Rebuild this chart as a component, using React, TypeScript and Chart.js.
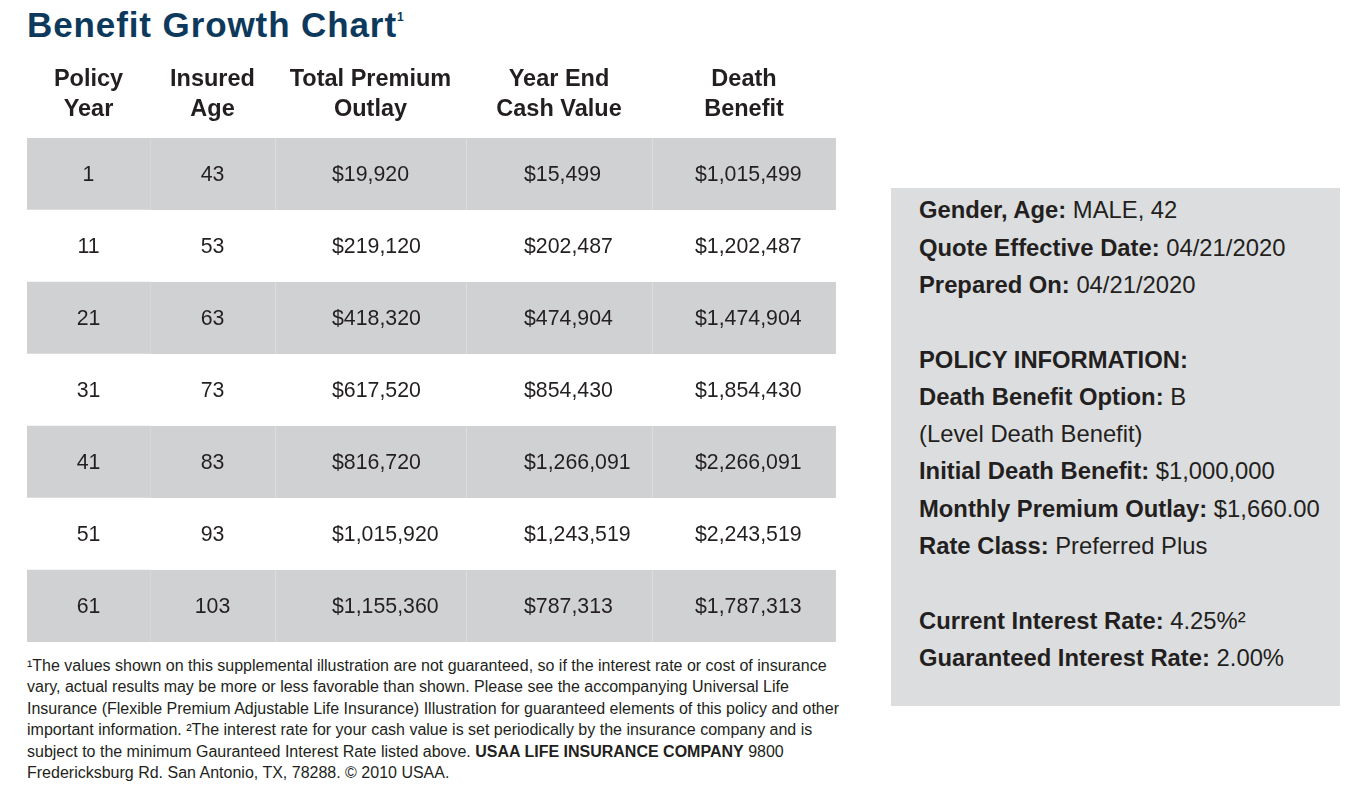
import React, { useEffect, useRef } from "react";
import { Chart, registerables } from "chart.js";

Chart.register(...registerables);

// ---- Data ----
const policyYears = [1, 11, 21, 31, 41, 51, 61];
const insuredAges = [43, 53, 63, 73, 83, 93, 103];
const totalPremiumOutlay = [19920, 219120, 418320, 617520, 816720, 1015920, 1155360];
const yearEndCashValue = [15499, 202487, 474904, 854430, 1266091, 1243519, 787313];
const deathBenefit = [1015499, 1202487, 1474904, 1854430, 2266091, 2243519, 1787313];
const columnHeaders = [
  ["Policy", "Year"],
  ["Insured", "Age"],
  ["Total Premium", "Outlay"],
  ["Year End", "Cash Value"],
  ["Death", "Benefit"],
];

// ---- Layout (not data) ----
const COLUMN_WIDTHS = [123, 125, 191, 186, 184];
const EDGES = COLUMN_WIDTHS.reduce((acc, w) => [...acc, acc[acc.length - 1] + w], [0] as number[]);
const CENTERS = COLUMN_WIDTHS.map((w, i) => EDGES[i] + w / 2);
// text anchor per column: centered for the first two, left-aligned with an inset for the money columns
const CELL_ALIGN: ("center" | "left")[] = ["center", "center", "left", "left", "left"];
const CELL_INSET = [0, 0, 57, 58, 43];
const CELL_ANCHOR = COLUMN_WIDTHS.map((_, i) => (CELL_ALIGN[i] === "center" ? CENTERS[i] : EDGES[i] + CELL_INSET[i]));

const FONT = '"Liberation Sans", Arial, Helvetica, sans-serif';
const TEXT = "#231f20";
const ROW_GRAY = "#d0d1d3";
const SEP_GRAY = "#e1e2e4";
const PANEL_GRAY = "#dcdddf";
const TITLE_BLUE = "#0d3a5c";

const money = (v: number) => "$" + v.toLocaleString("en-US");
const columns = [
  { values: policyYears, fmt: (v: number) => String(v) },
  { values: insuredAges, fmt: (v: number) => String(v) },
  { values: totalPremiumOutlay, fmt: money },
  { values: yearEndCashValue, fmt: money },
  { values: deathBenefit, fmt: money },
];

const cellTextPlugin = {
  id: "cellText",
  afterDatasetsDraw(chart: any) {
    const { ctx } = chart;
    const x = chart.scales.x;
    const y = chart.scales.y;
    ctx.save();
    ctx.font = `21.3px ${FONT}`;
    ctx.fillStyle = TEXT;
    ctx.textBaseline = "middle";
    columns.forEach((col, j) => {
      ctx.textAlign = CELL_ALIGN[j];
      col.values.forEach((v, i) => {
        ctx.fillText(col.fmt(v), x.getPixelForValue(CELL_ANCHOR[j]), y.getPixelForValue(i) + 1);
      });
    });
    ctx.restore();
  },
};

function TableChart() {
  const ref = useRef<HTMLCanvasElement | null>(null);
  useEffect(() => {
    if (!ref.current) return;
    const rowBg = policyYears.map((_, i) => (i % 2 === 0 ? ROW_GRAY : "#ffffff"));
    const rowSep = policyYears.map((_, i) => (i % 2 === 0 ? SEP_GRAY : "#ffffff"));
    const chart = new Chart(ref.current, {
      type: "bar",
      data: {
        labels: policyYears.map(String),
        datasets: COLUMN_WIDTHS.map((_, j) => ({
          label: columnHeaders[j].join(" "),
          data: policyYears.map(() => [EDGES[j], EDGES[j + 1]] as [number, number]),
          backgroundColor: rowBg,
          borderColor: rowSep,
          borderWidth: j === 0 ? 0 : { left: 1, right: 0, top: 0, bottom: 0 },
          borderSkipped: false,
          grouped: false,
          barPercentage: 1,
          categoryPercentage: 1,
        })),
      },
      options: {
        indexAxis: "y",
        animation: false,
        responsive: false,
        devicePixelRatio: 1,
        events: [],
        layout: { padding: { left: 27, right: 24, top: 0, bottom: 8 } },
        plugins: { legend: { display: false }, tooltip: { enabled: false } },
        scales: {
          x: {
            type: "linear",
            position: "top",
            min: 0,
            max: EDGES[EDGES.length - 1],
            grid: { display: false, drawTicks: false },
            border: { display: false },
            afterBuildTicks: (scale: any) => {
              scale.ticks = CENTERS.map((v) => ({ value: v }));
            },
            afterFit: (scale: any) => {
              scale.height = 88;
            },
            ticks: {
              autoSkip: false,
              maxRotation: 0,
              minRotation: 0,
              padding: 13,
              color: TEXT,
              font: { family: FONT, size: 23.5, weight: "bold", lineHeight: 30 / 23.5 },
              callback: (_v: any, i: number) => columnHeaders[i],
            },
          },
          y: {
            type: "category",
            display: false,
            offset: true,
            grid: { display: false },
          },
        },
      },
      plugins: [cellTextPlugin],
    } as any);
    return () => chart.destroy();
  }, []);
  return <canvas ref={ref} width={860} height={600} style={{ width: 860, height: 600, display: "block" }} />;
}

const panelLines: [string, string][] = [
  ["Gender, Age:", " MALE, 42"],
  ["Quote Effective Date:", " 04/21/2020"],
  ["Prepared On:", " 04/21/2020"],
  ["", ""],
  ["POLICY INFORMATION:", ""],
  ["Death Benefit Option:", " B"],
  ["", "(Level Death Benefit)"],
  ["Initial Death Benefit:", " $1,000,000"],
  ["Monthly Premium Outlay:", " $1,660.00"],
  ["Rate Class:", " Preferred Plus"],
  ["", ""],
  ["Current Interest Rate:", " 4.25%²"],
  ["Guaranteed Interest Rate:", " 2.00%"],
];

export default function App() {
  return (
    <div style={{ position: "absolute", left: 0, top: 0, width: 1351, height: 792, background: "#fff", fontFamily: FONT, color: TEXT }}>
      <div
        style={{
          position: "absolute",
          left: 27,
          top: 7,
          fontSize: 35,
          lineHeight: "35px",
          fontWeight: "bold",
          letterSpacing: 0.9,
          color: TITLE_BLUE,
          whiteSpace: "nowrap",
        }}
      >
        Benefit Growth Chart
        <span style={{ fontSize: 12, position: "relative", top: -16, letterSpacing: 0 }}>1</span>
      </div>

      <div style={{ position: "absolute", left: 0, top: 50 }}>
        <TableChart />
      </div>

      <div
        style={{
          position: "absolute",
          left: 27,
          top: 655,
          fontSize: 16,
          lineHeight: "21.4px",
          whiteSpace: "nowrap",
        }}
      >
        <div>¹The values shown on this supplemental illustration are not guaranteed, so if the interest rate or cost of insurance</div>
        <div>vary, actual results may be more or less favorable than shown. Please see the accompanying Universal Life</div>
        <div>Insurance (Flexible Premium Adjustable Life Insurance) Illustration for guaranteed elements of this policy and other</div>
        <div>important information. ²The interest rate for your cash value is set periodically by the insurance company and is</div>
        <div>
          subject to the minimum Gauranteed Interest Rate listed above. <b>USAA LIFE INSURANCE COMPANY</b> 9800
        </div>
        <div>Fredericksburg Rd. San Antonio, TX, 78288. © 2010 USAA.</div>
      </div>

      <div
        style={{
          position: "absolute",
          left: 891,
          top: 188,
          width: 449,
          height: 518,
          background: PANEL_GRAY,
          boxSizing: "border-box",
          paddingLeft: 28,
          paddingTop: 3.4,
          fontSize: 23.8,
          lineHeight: "37.3px",
          whiteSpace: "nowrap",
        }}
      >
        {panelLines.map(([b, r], i) => (
          <div key={i} style={{ height: 37.3 }}>
            {b ? <b>{b}</b> : null}
            {r}
          </div>
        ))}
      </div>
    </div>
  );
}
